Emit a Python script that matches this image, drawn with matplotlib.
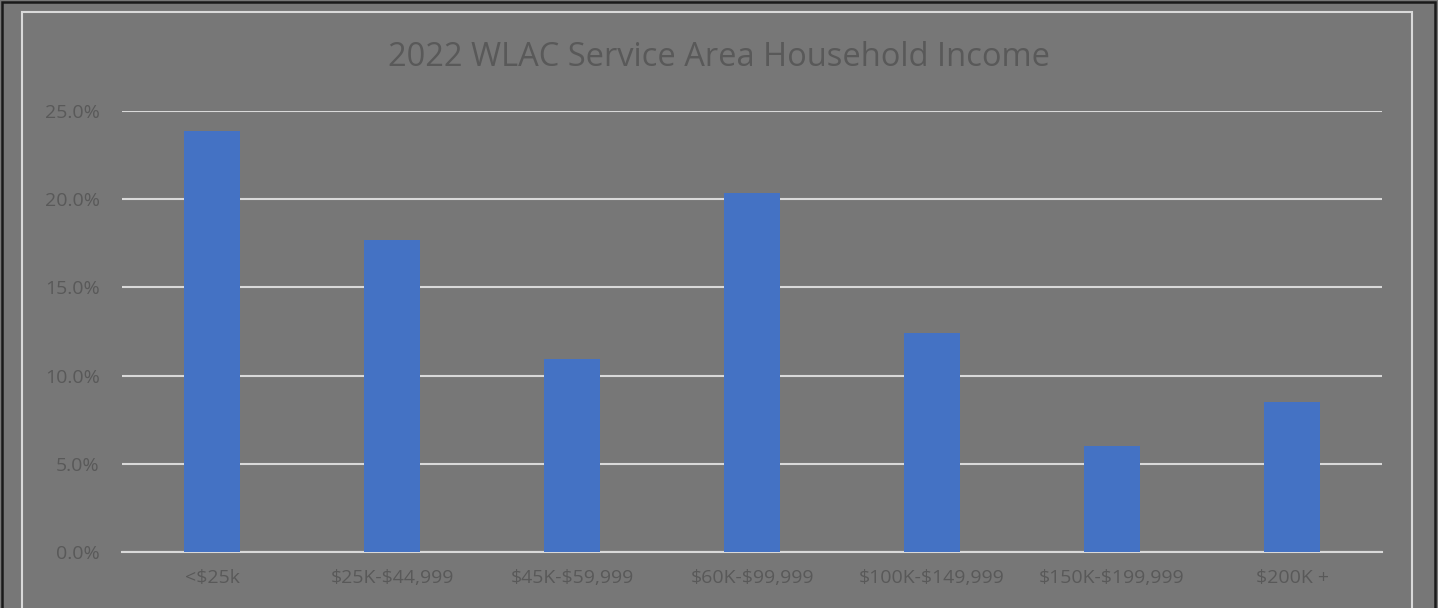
import matplotlib.pyplot as plt
from matplotlib.patches import Rectangle
from matplotlib.ticker import FuncFormatter

plt.rcParams['font.family'] = ['Open Sans', 'DejaVu Sans']
plt.rcParams['text.parse_math'] = False

# data
categories = ['<$25k', '$25K-$44,999', '$45K-$59,999', '$60K-$99,999',
              '$100K-$149,999', '$150K-$199,999', '$200K +']
shares = [23.85, 17.7, 10.95, 20.35, 12.4, 6.0, 8.5]
yticks = [0, 5, 10, 15, 20, 25]

bg = '#777777'
txt = '#595959'
grid = '#d9d9d9'
barcolor = '#4472C4'

W, H = 1438, 608
fig = plt.figure(figsize=(W / 100, H / 100), dpi=100, facecolor=bg)

# frames
fig.patches.append(Rectangle((1.5 / W, -0.1), (W - 4.5) / W, 1.1 - 1.5 / H,
                             transform=fig.transFigure, fill=False,
                             edgecolor='#1a1a1a', linewidth=1.8))
fig.patches.append(Rectangle((22 / W, -0.1), (1412 - 22) / W, 1.1 - 12 / H,
                             transform=fig.transFigure, fill=False,
                             edgecolor=grid, linewidth=1.5))

ax = fig.add_axes((122 / W, 1 - 552 / H, (1382 - 122) / W, (552 - 111) / H))
ax.set_facecolor(bg)

x = range(len(categories))
ax.bar(x, shares, width=0.31, color=barcolor, zorder=3)

ax.set_xlim(-0.5, len(categories) - 0.5)
ax.set_ylim(0, 25)
ax.set_yticks(yticks)
ax.yaxis.set_major_formatter(FuncFormatter(lambda v, p: f'{v:.1f}%'))
ax.set_xticks(list(x))
ax.set_xticklabels(categories)
ax.grid(axis='y', color=grid, linewidth=1.5, zorder=0)
ax.tick_params(axis='both', length=0, colors=txt, labelsize=14)
ax.tick_params(axis='y', pad=16)
ax.tick_params(axis='x', pad=12)
for sp in ['top', 'right', 'left']:
    ax.spines[sp].set_visible(False)
ax.spines['bottom'].set_color(grid)
ax.spines['bottom'].set_linewidth(1.5)

fig.text(0.5, 1 - 57 / H, '2022 WLAC Service Area Household Income',
         ha='center', va='center', color=txt, fontsize=23.5)

fig.savefig('out.png', dpi=100, facecolor=bg)
